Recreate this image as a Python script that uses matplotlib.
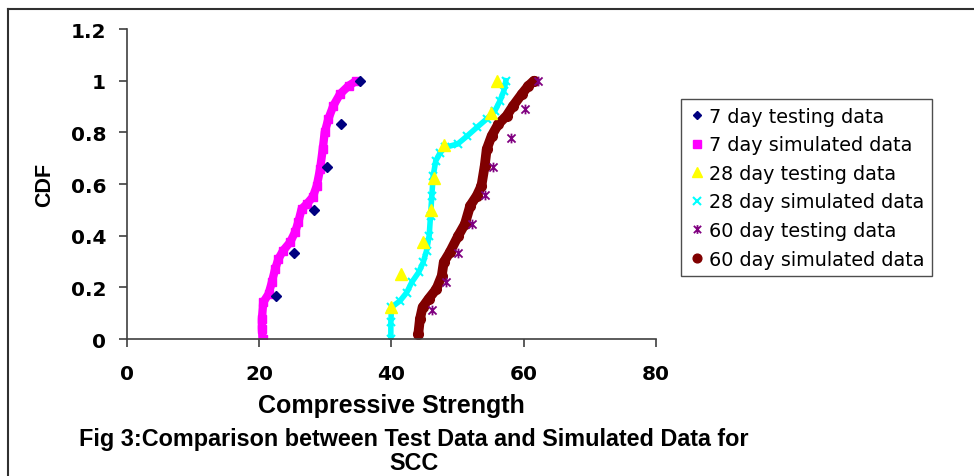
import matplotlib.pyplot as plt
from matplotlib.lines import Line2D
from matplotlib.path import Path

plt.rcParams['font.family'] = ['Liberation Sans', 'DejaVu Sans']

# testing data
x7_test = [22.5, 25.3, 28.3, 30.3, 32.3, 35.2]
y7_test = [0.167, 0.333, 0.5, 0.667, 0.833, 1.0]

x28_test = [39.9, 41.4, 44.8, 46.0, 46.5, 47.9, 55.1, 56.0]
y28_test = [0.125, 0.25, 0.375, 0.5, 0.625, 0.75, 0.875, 1.0]

x60_test = [46.1, 48.2, 50.1, 52.2, 54.1, 55.3, 58.0, 60.2, 62.2]
y60_test = [0.111, 0.222, 0.333, 0.444, 0.556, 0.667, 0.778, 0.889, 1.0]

# simulated data (traced along the marker band)
x7_sim = [20.5, 20.4, 20.4, 20.6, 21.4, 21.9, 22.4, 22.9, 23.6, 24.65, 25.4, 25.9,
          26.4, 27.2, 28.1, 28.7, 29.2, 29.6, 29.9, 30.45, 31.2, 32.2, 33.5, 34.7]
y7_sim = [0.0, 0.04, 0.077, 0.142, 0.174, 0.219, 0.271, 0.31, 0.342, 0.374, 0.413, 0.452,
          0.503, 0.523, 0.55, 0.593, 0.658, 0.735, 0.8, 0.852, 0.903, 0.948, 0.98, 1.0]

x28_sim = [39.9, 39.9, 40.0, 41.3, 42.3, 43.05, 44.1, 44.8, 45.3, 45.7, 45.9, 46.1,
           46.3, 46.7, 47.3, 48.1, 50.0, 51.4, 52.9, 54.4, 55.65, 56.4, 57.0, 57.3]
y28_sim = [0.0, 0.064, 0.123, 0.148, 0.18, 0.219, 0.258, 0.297, 0.342, 0.4, 0.477, 0.555,
           0.632, 0.69, 0.719, 0.742, 0.755, 0.785, 0.819, 0.852, 0.884, 0.922, 0.961, 1.0]

x60_sim = [44.05, 44.3, 44.7, 45.6, 46.8, 47.6, 47.9, 48.8, 50.1, 51.1, 51.9, 52.9,
           53.6, 54.1, 54.4, 55.15, 56.15, 57.4, 58.4, 59.7, 60.7, 61.55]
y60_sim = [0.019, 0.077, 0.123, 0.155, 0.194, 0.245, 0.297, 0.335, 0.4, 0.445, 0.516, 0.555,
           0.593, 0.671, 0.735, 0.787, 0.832, 0.864, 0.903, 0.948, 0.98, 1.0]

# excel-like star marker: an x with a vertical bar through it
star = Path([(-1, -1), (1, 1), (-1, 1), (1, -1), (0, -1.2), (0, 1.2)],
            [Path.MOVETO, Path.LINETO, Path.MOVETO, Path.LINETO, Path.MOVETO, Path.LINETO])

fig = plt.figure(figsize=(9.74, 4.77), dpi=100)
ax = fig.add_axes([0.1304, 0.2872, 0.5431, 0.6498])

# bands under the simulated markers
ax.plot(x7_sim, y7_sim, color='#FF00FF', lw=6, solid_capstyle='butt', zorder=2)
ax.plot(x28_sim, y28_sim, color='#00FFFF', lw=4, zorder=2)
ax.plot(x60_sim, y60_sim, color='#800000', lw=7, solid_capstyle='round', zorder=2)

ax.plot(x7_test, y7_test, ls='none', marker='D', ms=5, color='#000080',
        label='7 day testing data', zorder=3)
ax.plot(x7_sim, y7_sim, ls='none', marker='s', ms=6, color='#FF00FF',
        label='7 day simulated data', zorder=2)
ax.plot(x28_test, y28_test, ls='none', marker='^', ms=8, color='#FFFF00',
        label='28 day testing data', zorder=3)
ax.plot(x28_sim, y28_sim, ls='none', marker='x', ms=6, mew=1.5, color='#00FFFF',
        label='28 day simulated data', zorder=2)
ax.plot(x60_test, y60_test, ls='none', marker=star, ms=7, mew=1.3, color='#800080',
        label='60 day testing data', zorder=3)
ax.plot(x60_sim, y60_sim, ls='none', marker='o', ms=7, color='#800000',
        label='60 day simulated data', zorder=2)

ax.set_xlim(0, 80)
ax.set_ylim(0, 1.2)
ax.set_xticks([0, 20, 40, 60, 80])
ax.set_yticks([0, 0.2, 0.4, 0.6, 0.8, 1.0, 1.2])
ax.set_yticklabels(['0', '0.2', '0.4', '0.6', '0.8', '1', '1.2'])
for s in ['top', 'right']:
    ax.spines[s].set_visible(False)
for s in ['left', 'bottom']:
    ax.spines[s].set_color('#404040')
    ax.spines[s].set_linewidth(1.2)
ax.tick_params(direction='out', length=6, width=1.2, color='#404040')
ax.tick_params(axis='y', pad=9)
ax.tick_params(axis='x', pad=12)
for lab in ax.get_xticklabels() + ax.get_yticklabels():
    lab.set_fontfamily('DejaVu Sans')
    lab.set_fontweight('bold')
    lab.set_fontsize(14.5)

ax.set_xlabel('Compressive Strength', fontsize=18, fontweight='bold', labelpad=7)
ax.set_ylabel('CDF', fontsize=15.5, fontweight='bold', labelpad=11)

leg = ax.legend(loc='upper left', bbox_to_anchor=(681 / 974, 1 - 100 / 477),
                bbox_transform=fig.transFigure, prop={'family': 'DejaVu Sans', 'size': 13.8},
                frameon=True, fancybox=False, edgecolor='black', handlelength=0.85,
                handletextpad=0.2, labelspacing=0.5, borderpad=0.4,
                borderaxespad=0, markerscale=0.9)
leg.get_frame().set_linewidth(1.0)
leg.get_frame().set_edgecolor('#202020')

fig.text(414 / 974, 1 - 440 / 477,
         'Fig 3:Comparison between Test Data and Simulated Data for',
         ha='center', va='center', fontsize=16.8, fontweight='bold')
fig.text(414 / 974, 2 / 477, 'SCC', ha='center', va='bottom',
         fontsize=16.8, fontweight='bold')

# frame around figure (top and left edges visible)
fig.add_artist(Line2D([8 / 974, 1.0], [1 - 10 / 477, 1 - 10 / 477],
                      transform=fig.transFigure, color='#303030', lw=1.5))
fig.add_artist(Line2D([8 / 974, 8 / 974], [0.0, 1 - 10 / 477],
                      transform=fig.transFigure, color='#303030', lw=1.5))

fig.savefig('out.png', dpi=100)
